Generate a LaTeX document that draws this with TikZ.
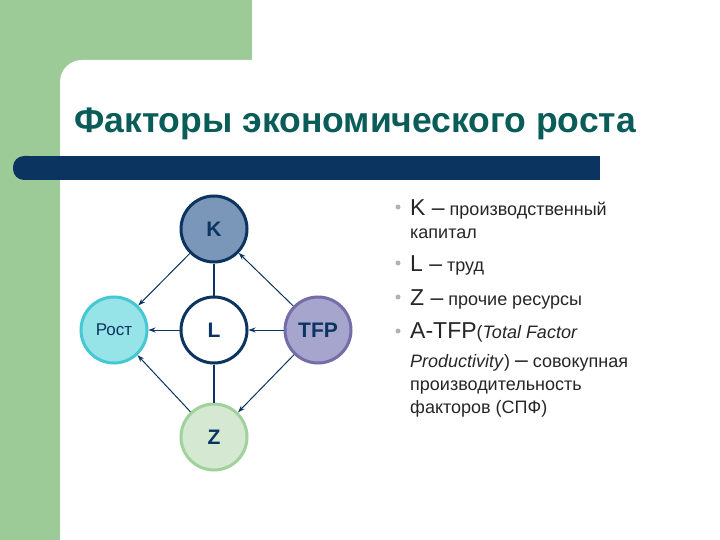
\documentclass[tikz,border=0pt]{standalone}
\usepackage{fontspec}
\setmainfont{Liberation Sans}
\usetikzlibrary{arrows.meta}
\definecolor{gband}{RGB}{157,203,152}
\definecolor{navy}{RGB}{12,52,96}
\definecolor{titlec}{RGB}{10,92,88}
\definecolor{kfill}{RGB}{122,150,184}
\definecolor{rfill}{RGB}{150,228,232}
\definecolor{rbord}{RGB}{70,200,212}
\definecolor{tfill}{RGB}{165,165,205}
\definecolor{tbord}{RGB}{118,108,168}
\definecolor{zfill}{RGB}{212,232,210}
\definecolor{zbord}{RGB}{160,210,155}
\begin{document}
\begin{tikzpicture}[x=1pt,y=-1pt,
  circ/.style={circle,minimum size=66pt,inner sep=0pt,line width=3pt,text=navy,font=\bfseries\fontsize{21}{21}\selectfont},
  arr/.style={-{Stealth[length=7pt,width=5pt]},navy,line width=1pt},
  ln/.style={navy,line width=2.2pt},
  bul/.style={anchor=base west,font=\fontsize{18}{18}\selectfont,text=black!85,inner sep=0pt},
  dot/.style={circle,fill=gray!60,inner sep=0pt,minimum size=5pt}]
\useasboundingbox (0,0) rectangle (720,540);
\fill[white] (0,0) rectangle (720,540);
\fill[gband] (0,0) rectangle (252,540);
\fill[white,rounded corners=22pt] (60,60) rectangle (740,560);
\fill[gband] (0,0) rectangle (60,540);
\fill[gband] (60,0) rectangle (252,59);
\fill[navy,rounded corners=11pt] (13,156) rectangle (40,180);
\fill[navy] (25,156) rectangle (600,180);
\node[anchor=base west,inner sep=0pt,text=titlec,font=\bfseries\fontsize{35.5}{36}\selectfont] (title) at (74,133) {Факторы экономического роста};
\node[circ,draw=navy,fill=kfill] (K) at (214,229) {K};
\node[circ,draw=rbord,fill=rfill,font=\fontsize{17}{17}\selectfont] (R) at (114,330) {Рост};
\node[circ,draw=navy,fill=white] (L) at (214,330) {L};
\node[circ,draw=tbord,fill=tfill] (T) at (318,330) {TFP};
\node[circ,draw=zbord,fill=zfill] (Z) at (214,437) {Z};
\draw[ln] (K) -- (L);
\draw[ln] (L) -- (Z);
\draw[arr] (K) -- (R);
\draw[arr] (L) -- (R);
\draw[arr] (Z) -- (R);
\draw[arr] (T) -- (K);
\draw[arr] (T) -- (L);
\draw[arr] (T) -- (Z);
\node[dot] (d1) at (398,207) {};
\node[dot] (d2) at (398,263) {};
\node[dot] (d3) at (398,297) {};
\node[dot] (d4) at (398,331) {};
\node[bul] (t1) at (410,215) {{\fontsize{23}{23}\selectfont K –} производственный};
\node[bul] (t2) at (410,238) {капитал};
\node[bul] (t3) at (410,271) {{\fontsize{23}{23}\selectfont L –} труд};
\node[bul] (t4) at (410,305) {{\fontsize{23}{23}\selectfont Z –} прочие ресурсы};
\node[bul] (t5) at (410,338) {{\fontsize{23}{23}\selectfont A-TFP}(\textit{Total Factor}};
\node[bul] (t6) at (410,367) {\textit{Productivity}) {\fontsize{23}{23}\selectfont –} совокупная};
\node[bul] (t7) at (410,390) {производительность};
\node[bul] (t8) at (410,413) {факторов (СПФ)};
\end{tikzpicture}
\end{document}
